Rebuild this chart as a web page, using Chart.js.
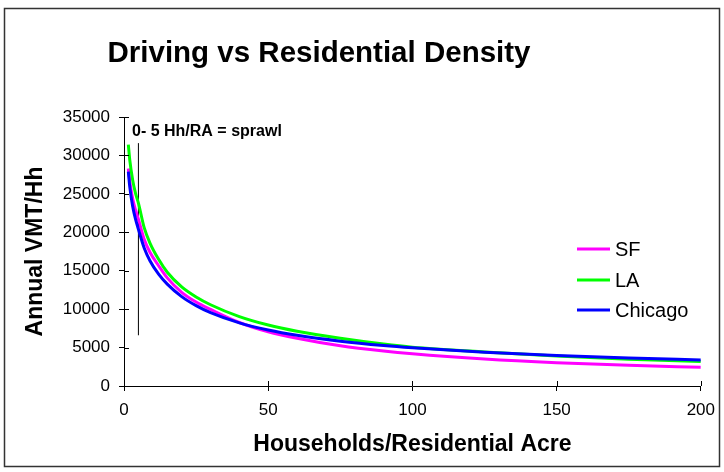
<!DOCTYPE html>
<html>
<head>
<meta charset="utf-8">
<title>Driving vs Residential Density</title>
<script src="https://cdn.jsdelivr.net/npm/chart.js@4.4.1/dist/chart.umd.min.js"></script>
<style>
    html, body { margin: 0; padding: 0; background: #ffffff; }
    #wrap { width: 724px; height: 472px; }
</style>
</head>
<body>
<div id="wrap"><canvas id="densityChart" width="724" height="472"></canvas></div>
<script>
// ===================================
// DADOS DO GRÁFICO
// ===================================

// Households / residential acre
const densities = [1.5, 2, 3, 4, 5, 7, 9, 12, 15, 20, 25, 30, 40, 50, 60, 75, 90, 100, 125, 150, 175, 200];

// Annual VMT per household
const sfValues      = [28300, 26600, 24400, 22900, 21700, 19100, 17400, 15650, 14070, 12190, 10920, 9970, 8260, 7060, 6220, 5240, 4550, 4190, 3515, 3040, 2700, 2430];
const laValues      = [31400, 29400, 26800, 25050, 23800, 20600, 18600, 16480, 14800, 12890, 11580, 10570, 9030, 7930, 7120, 6200, 5450, 5050, 4420, 3890, 3490, 3180];
const chicagoValues = [27900, 25900, 23400, 21700, 20400, 17950, 16300, 14550, 13250, 11630, 10450, 9540, 8210, 7280, 6590, 5830, 5270, 4980, 4400, 3980, 3650, 3390];

// Marcador vertical "sprawl"
const sprawlX = [5, 5];
const sprawlY = [6600, 31600];

const seriesNames  = ['SF', 'LA', 'Chicago'];
const seriesColors = ['#ff00ff', '#00ff00', '#0000ff'];

const xTicks = [0, 50, 100, 150, 200];
const yTicks = [0, 5000, 10000, 15000, 20000, 25000, 30000, 35000];

const FONT = "'Liberation Sans', Arial, sans-serif";

/**
 * Junta x e y em pontos {x, y}
 */
function toPoints(xs, ys) {
    return xs.map((x, i) => ({ x: x, y: ys[i] }));
}

/**
 * Moldura, título, nota e legenda desenhados sobre o canvas
 */
const decorPlugin = {
    id: 'decor',
    afterDraw(chart) {
        const ctx = chart.ctx;
        const xs = chart.scales.x;
        const ys = chart.scales.y;
        ctx.save();

        // moldura externa
        ctx.strokeStyle = '#333333';
        ctx.lineWidth = 1.5;
        ctx.strokeRect(4.5, 8.5, 715, 458);

        // marcas internas dos eixos (cruzando o eixo)
        ctx.strokeStyle = '#000000';
        ctx.lineWidth = 1;
        ctx.beginPath();
        yTicks.forEach(v => {
            const y = Math.round(ys.getPixelForValue(v)) + 0.5;
            ctx.moveTo(xs.left, y);
            ctx.lineTo(xs.left + 5, y);
        });
        xTicks.forEach(v => {
            const x = Math.round(xs.getPixelForValue(v)) + 0.5;
            ctx.moveTo(x, ys.bottom);
            ctx.lineTo(x, ys.bottom - 5);
        });
        ctx.stroke();

        // título
        ctx.fillStyle = '#000000';
        ctx.font = 'bold 29.5px ' + FONT;
        ctx.textAlign = 'center';
        ctx.textBaseline = 'alphabetic';
        ctx.fillText('Driving vs Residential Density', 319, 62);

        // nota do marcador
        ctx.font = 'bold 16px ' + FONT;
        ctx.textAlign = 'left';
        ctx.textBaseline = 'middle';
        ctx.fillText('0- 5 Hh/RA = sprawl', 132, 132);

        // legenda dentro da área do gráfico
        const legendY = [249, 280, 310];
        ctx.font = '20px ' + FONT;
        seriesNames.forEach((name, i) => {
            ctx.strokeStyle = seriesColors[i];
            ctx.lineWidth = 3;
            ctx.beginPath();
            ctx.moveTo(577, legendY[i]);
            ctx.lineTo(610, legendY[i]);
            ctx.stroke();
            ctx.fillStyle = '#000000';
            ctx.fillText(name, 615, legendY[i] + 1);
        });

        ctx.restore();
    }
};

function lineDataset(label, values, color, order) {
    return {
        label: label,
        data: toPoints(densities, values),
        borderColor: color,
        backgroundColor: color,
        borderWidth: 3,
        pointRadius: 0,
        tension: 0.4,
        cubicInterpolationMode: 'monotone',
        order: order
    };
}

document.addEventListener('DOMContentLoaded', () => {
    const ctx = document.getElementById('densityChart');

    new Chart(ctx, {
        type: 'line',
        data: {
            datasets: [
                lineDataset(seriesNames[0], sfValues, seriesColors[0], 3),
                lineDataset(seriesNames[1], laValues, seriesColors[1], 2),
                lineDataset(seriesNames[2], chicagoValues, seriesColors[2], 1),
                {
                    label: 'sprawl',
                    data: toPoints(sprawlX, sprawlY),
                    borderColor: '#000000',
                    borderWidth: 1,
                    pointRadius: 0,
                    order: 4
                }
            ]
        },
        options: {
            responsive: false,
            animation: false,
            layout: {
                padding: { left: 0, right: 16, top: 117, bottom: 0 }
            },
            plugins: {
                legend: { display: false },
                title: { display: false },
                tooltip: { enabled: false }
            },
            scales: {
                x: {
                    type: 'linear',
                    min: 0,
                    max: 200,
                    afterFit: scale => { scale.height = 86; },
                    afterBuildTicks: scale => { scale.ticks = xTicks.map(v => ({ value: v })); },
                    grid: {
                        drawOnChartArea: false,
                        drawTicks: true,
                        tickLength: 5,
                        color: '#000000'
                    },
                    border: { color: '#000000', width: 1 },
                    ticks: {
                        color: '#000000',
                        padding: 9,
                        maxRotation: 0,
                        font: { family: FONT, size: 17 }
                    },
                    title: {
                        display: true,
                        text: 'Households/Residential Acre',
                        color: '#000000',
                        padding: { top: 0, bottom: 14 },
                        font: { family: FONT, size: 23, weight: 'bold' }
                    }
                },
                y: {
                    min: 0,
                    max: 35000,
                    afterFit: scale => { scale.width = 124; },
                    afterBuildTicks: scale => { scale.ticks = yTicks.map(v => ({ value: v })); },
                    grid: {
                        drawOnChartArea: false,
                        drawTicks: true,
                        tickLength: 5,
                        color: '#000000'
                    },
                    border: { color: '#000000', width: 1 },
                    ticks: {
                        color: '#000000',
                        padding: 9,
                        font: { family: FONT, size: 17 },
                        callback: v => String(v)
                    },
                    title: {
                        display: true,
                        text: 'Annual VMT/Hh',
                        color: '#000000',
                        padding: { top: 22, bottom: 0 },
                        font: { family: FONT, size: 23, weight: 'bold' }
                    }
                }
            }
        },
        plugins: [decorPlugin]
    });
});
</script>
</body>
</html>
